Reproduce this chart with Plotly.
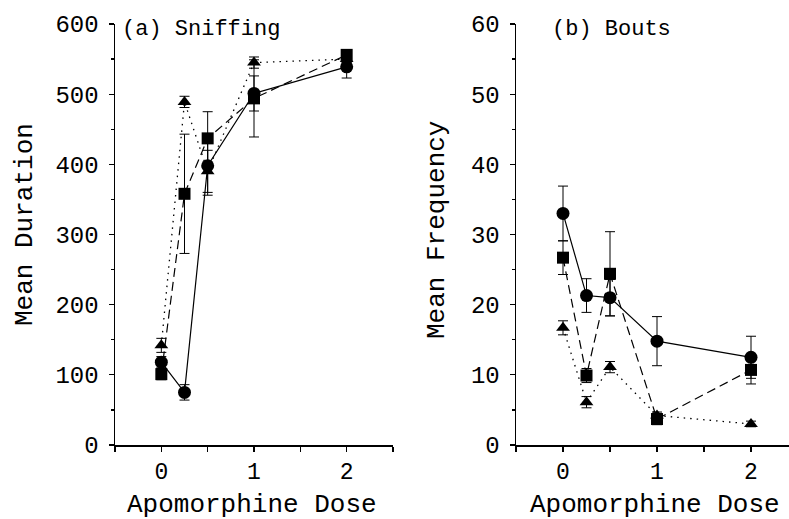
import plotly.graph_objects as go

dose = [0, 0.25, 0.5, 1, 2]

# (a) Sniffing - mean duration
sniff_circle = [118, 75, 398, 501, 539]
sniff_circle_err = [8, 11, 42, 25, 16]
sniff_square = [101, 358, 437, 494, 556]
sniff_square_err = [8, 85, 38, 55, 6]
sniff_triangle = [142, 489, 390, 545, 550]
sniff_triangle_err = [10, 8, 30, 8, 5]

# (b) Bouts - mean frequency
bouts_circle = [33.0, 21.3, 21.0, 14.8, 12.5]
bouts_circle_err = [3.9, 2.4, 2.6, 3.5, 3.0]
bouts_square = [26.7, 9.9, 24.4, 3.7, 10.7]
bouts_square_err = [2.4, 1.0, 6.0, 0.8, 2.0]
bouts_triangle = [16.7, 6.1, 11.1, 4.2, 3.0]
bouts_triangle_err = [1.0, 0.8, 0.8, 0.5, 0.4]

x_tick_vals = [0, 1, 2]
x_tick_text = ["0", "1", "2"]
y1_ticks = [0, 100, 200, 300, 400, 500, 600]
y2_ticks = [0, 10, 20, 30, 40, 50, 60]

FONT = "Liberation Mono"
W, H = 789, 519

fig = go.Figure()

styles = {
    "circle": dict(symbol="circle", size=13, dash="solid", width=1.2),
    "square": dict(symbol="square", size=12, dash="9px,5px", width=1.2),
    "triangle": dict(symbol="triangle-up", size=12, dash="1.5px,5px", width=1.3),
}

def add(xaxis, yaxis, ys, errs, kind):
    s = styles[kind]
    fig.add_trace(go.Scatter(
        x=dose, y=ys, xaxis=xaxis, yaxis=yaxis, mode="lines+markers",
        line=dict(color="black", width=s["width"], dash=s["dash"]),
        marker=dict(symbol=s["symbol"], size=s["size"], color="black"),
        error_y=dict(type="data", array=errs, visible=True, color="black",
                     thickness=1, width=5),
        cliponaxis=False, showlegend=False, hoverinfo="skip",
    ))

add("x", "y", sniff_triangle, sniff_triangle_err, "triangle")
add("x", "y", sniff_square, sniff_square_err, "square")
add("x", "y", sniff_circle, sniff_circle_err, "circle")
add("x2", "y2", bouts_triangle, bouts_triangle_err, "triangle")
add("x2", "y2", bouts_square, bouts_square_err, "square")
add("x2", "y2", bouts_circle, bouts_circle_err, "circle")

ybot = (H - 445) / H
ytop = (H - 24) / H

def xax(domain, rng, anchor):
    return dict(
        tickmode="array", tickvals=x_tick_vals, ticktext=x_tick_text,
        ticks="outside", ticklen=5, tickwidth=1.2, tickcolor="black",
        showline=True, linecolor="black", linewidth=1.5,
        showgrid=False, zeroline=False, automargin=False,
        tickfont=dict(family=FONT, size=23, color="black"),
        minor=dict(tickmode="array", tickvals=[-0.5, 0.5, 1.5, 2.5],
                   ticks="outside", ticklen=5, tickwidth=1.2, tickcolor="black"),
        domain=domain, range=rng, anchor=anchor,
    )

def yax(rng, ticks, minor_dt, anchor):
    return dict(
        ticks="outside", ticklen=5, tickwidth=1.2, tickcolor="black",
        showline=True, linecolor="black", linewidth=1.5,
        showgrid=False, zeroline=False, automargin=False,
        tickfont=dict(family=FONT, size=24, color="black"),
        ticklabelstandoff=5,
        domain=[ybot, ytop], range=rng, tickmode="array", tickvals=ticks,
        anchor=anchor,
        minor=dict(dtick=minor_dt, ticks="outside", ticklen=3, tickwidth=1.2,
                   tickcolor="black"),
    )

fig.update_layout(
    width=W, height=H,
    margin=dict(l=0, r=0, t=0, b=0, pad=0),
    paper_bgcolor="white", plot_bgcolor="white",
    hovermode=False,
    xaxis=xax([115 / W, 393 / W], [-0.5, 2.5], "y"),
    xaxis2=xax([516 / W, 1.0], [-0.5, -0.5 + (W - 516) / 94.0], "y2"),
    yaxis=yax([0, 600], y1_ticks, 50, "x"),
    yaxis2=yax([0, 60], y2_ticks, 5, "x2"),
    annotations=[
        dict(text="(a) Sniffing", x=120 / W, y=(H - 30) / H, xref="paper", yref="paper",
             xanchor="left", yanchor="middle", showarrow=False,
             font=dict(family=FONT, size=22, color="black")),
        dict(text="(b) Bouts", x=550 / W, y=(H - 30) / H, xref="paper", yref="paper",
             xanchor="left", yanchor="middle", showarrow=False,
             font=dict(family=FONT, size=22, color="black")),
        dict(text="Apomorphine Dose", x=(130 + 375) / 2 / W, y=(H - 505) / H,
             xref="paper", yref="paper", xanchor="center", yanchor="middle",
             showarrow=False, font=dict(family=FONT, size=26, color="black")),
        dict(text="Apomorphine Dose", x=(130 + 375 + 2 * 402) / 2 / W, y=(H - 505) / H,
             xref="paper", yref="paper", xanchor="center", yanchor="middle",
             showarrow=False, font=dict(family=FONT, size=26, color="black")),
        dict(text="Mean Duration", x=25 / W, y=(H - 225) / H, xref="paper", yref="paper",
             xanchor="center", yanchor="middle", textangle=-90, showarrow=False,
             font=dict(family=FONT, size=26, color="black")),
        dict(text="Mean Frequency", x=437 / W, y=(H - 230) / H, xref="paper", yref="paper",
             xanchor="center", yanchor="middle", textangle=-90, showarrow=False,
             font=dict(family=FONT, size=26, color="black")),
    ],
)

fig.write_html("out.html",
               config={"displayModeBar": False, "staticPlot": True},
               post_script="document.body.style.margin='0';document.body.style.overflow='hidden';")
